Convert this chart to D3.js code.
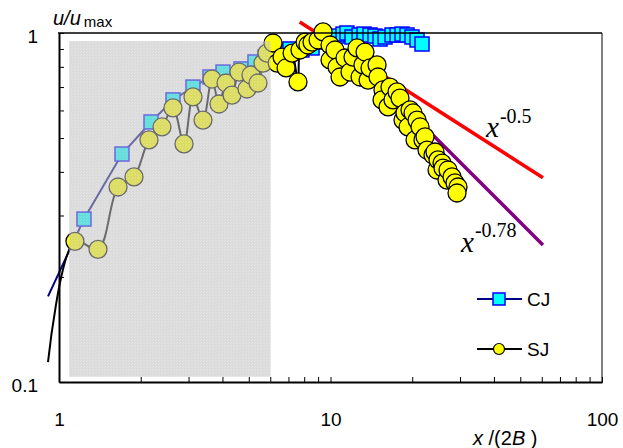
<!DOCTYPE html>
<html lang="en">
<head>
  <meta charset="UTF-8">
  <title>u/umax vs x/(2B)</title>
  <script src="https://d3js.org/d3.v7.min.js"></script>
  <style>
    body { margin: 0; background: #fff; }
    .axis text { font-family: Arial, "Liberation Sans", sans-serif; font-size: 19px; fill: #000; }
    .axis line { stroke: #000; stroke-width: 1; }
    .axis path { stroke: #000; stroke-width: 2; }
    .lbl { font-family: Arial, "Liberation Sans", sans-serif; fill: #000; }
    .law { font-family: "Times New Roman", "Liberation Serif", serif; fill: #000; }
  </style>
</head>
<body>
  <svg id="chart" width="623" height="448"></svg>
  <script>
    // CJ series (square markers) : [x/(2B), u/umax]
    const cjLead = [[0.911, 0.176]];
    const cjData = [
      [1.236, 0.293], [1.706, 0.450], [2.182, 0.556], [2.630, 0.643], [3.115, 0.700],
      [3.598, 0.748], [4.019, 0.773], [4.681, 0.789], [5.271, 0.826],
      [5.74, 0.853], [6.41, 0.882], [7.09, 0.900], [7.85, 0.894], [8.55, 0.906],
      [9.31, 0.942], [9.96, 0.968], [10.57, 0.980], [11.12, 0.993], [11.50, 1.0],
      [12.00, 0.974], [12.74, 0.987], [13.29, 0.993], [13.98, 0.987], [14.58, 0.980],
      [15.22, 0.961], [15.88, 0.974], [16.85, 0.987], [17.58, 0.987], [18.34, 0.993],
      [19.13, 0.987], [19.96, 0.974], [20.83, 0.955], [21.73, 0.930]
    ];

    // SJ series (circle markers)
    const sjLead = [[0.911, 0.114]];
    const sjData = [
      [1.145, 0.253], [1.392, 0.240], [1.650, 0.362], [1.889, 0.387], [2.145, 0.494],
      [2.395, 0.538], [2.630, 0.610], [2.887, 0.481], [3.115, 0.656], [3.391, 0.563],
      [3.660, 0.738], [3.884, 0.626], [4.123, 0.719], [4.338, 0.664], [4.603, 0.773],
      [4.925, 0.691], [5.095, 0.758], [5.407, 0.719], [5.641, 0.820], [5.836, 0.876],
      [6.14, 0.936], [6.36, 0.820], [6.63, 0.853], [6.86, 0.794], [7.22, 0.876],
      [7.59, 0.724], [7.72, 0.894], [8.06, 0.942], [8.26, 0.924], [8.55, 0.942],
      [9.00, 0.955], [9.39, 1.007], [9.96, 0.924], [9.96, 0.837], [10.39, 0.894],
      [10.57, 0.799], [10.84, 0.748], [11.31, 0.848], [11.80, 0.773], [12.10, 0.853],
      [12.52, 0.906], [12.85, 0.748], [13.17, 0.810], [13.40, 0.882], [13.75, 0.733],
      [13.98, 0.794], [14.84, 0.810], [14.96, 0.748], [15.61, 0.687], [15.48, 0.643],
      [16.29, 0.614], [16.56, 0.700], [16.99, 0.643], [17.58, 0.678], [18.03, 0.651],
      [18.49, 0.563], [18.81, 0.590], [19.30, 0.538], [19.63, 0.602], [20.14, 0.590],
      [20.48, 0.494], [20.83, 0.563], [21.37, 0.538], [21.91, 0.494], [22.29, 0.504],
      [22.67, 0.462], [23.85, 0.447], [24.26, 0.456], [24.68, 0.405], [24.89, 0.433],
      [25.75, 0.424], [25.97, 0.410], [26.86, 0.379], [27.09, 0.405], [28.03, 0.387],
      [28.75, 0.372], [29.49, 0.362], [29.24, 0.348]
    ];

    // power-law guide lines
    const lawHalf = [[7.7, 1.075], [60.6, 0.385]];
    const lawSteep = [[20.48, 0.574], [60.6, 0.247]];

    // shaded near-field region
    const shadeX = [1.09, 6.02];
    const shadeY = [0.1035, 0.948];

    const xTickLabels = [1, 10, 100];
    const yTickLabels = [0.1, 1];

    const svg = d3.select("#chart");
    const x = d3.scaleLog().domain([1, 100]).range([59, 602]);
    const y = d3.scaleLog().domain([0.1, 1]).range([382, 33]);

    const defs = svg.append("defs");
    const pat = defs.append("pattern")
      .attr("id", "dots").attr("width", 3).attr("height", 3)
      .attr("patternUnits", "userSpaceOnUse");
    pat.append("rect").attr("width", 3).attr("height", 3).attr("fill", "#bdbdbd");
    pat.append("rect").attr("x", 0).attr("y", 0).attr("width", 1).attr("height", 1).attr("fill", "#cfcfcf");
    pat.append("rect").attr("x", 2).attr("y", 1).attr("width", 1).attr("height", 1).attr("fill", "#cfcfcf");

    const straight = d3.line().x(d => x(d[0])).y(d => y(d[1]));
    const smooth = d3.line().x(d => x(d[0])).y(d => y(d[1])).curve(d3.curveCatmullRom.alpha(0.5));

    // guide lines
    svg.append("path").attr("d", straight(lawHalf))
      .attr("fill", "none").attr("stroke", "#ff0000").attr("stroke-width", 3.5);
    svg.append("path").attr("d", straight(lawSteep))
      .attr("fill", "none").attr("stroke", "#800080").attr("stroke-width", 3.5);

    // CJ
    svg.append("path").attr("d", straight(cjLead.concat(cjData)))
      .attr("fill", "none").attr("stroke", "#000080").attr("stroke-width", 2);
    const sq = 14;
    svg.selectAll(".cj").data(cjData).enter().append("rect")
      .attr("class", "cj")
      .attr("x", d => x(d[0]) - sq / 2).attr("y", d => y(d[1]) - sq / 2)
      .attr("width", sq).attr("height", sq)
      .attr("fill", "#00ffff").attr("stroke", "#0000ff").attr("stroke-width", 1.5);

    // SJ
    svg.append("path").attr("d", smooth(sjLead.concat(sjData)))
      .attr("fill", "none").attr("stroke", "#000").attr("stroke-width", 2);
    svg.selectAll(".sj").data(sjData).enter().append("circle")
      .attr("class", "sj")
      .attr("cx", d => x(d[0])).attr("cy", d => y(d[1])).attr("r", 9)
      .attr("fill", "#ffff00").attr("stroke", "#000").attr("stroke-width", 1.3);

    // translucent shading over the near field
    svg.append("rect")
      .attr("x", x(shadeX[0])).attr("y", y(shadeY[1]))
      .attr("width", x(shadeX[1]) - x(shadeX[0]))
      .attr("height", y(shadeY[0]) - y(shadeY[1]))
      .attr("fill", "url(#dots)").attr("opacity", 0.55);

    // axes
    const fmtX = d => xTickLabels.includes(+d.toPrecision(6)) ? String(d) : "";
    const fmtY = d => yTickLabels.includes(+d.toPrecision(6)) ? String(+d.toPrecision(6)) : "";

    svg.append("g").attr("class", "axis")
      .attr("transform", "translate(0,382)")
      .call(d3.axisBottom(x).tickSizeInner(-5).tickSizeOuter(0).tickPadding(31).tickFormat(fmtX));

    svg.append("g").attr("class", "axis")
      .attr("transform", "translate(59,0)")
      .call(d3.axisLeft(y).tickSizeInner(-5).tickSizeOuter(0).tickPadding(21).tickFormat(fmtY))
      .selectAll("text").attr("dy", "0.48em");

    // frame top and right
    svg.append("line").attr("x1", 58).attr("x2", 602).attr("y1", 33).attr("y2", 33)
      .attr("stroke", "#000").attr("stroke-width", 1.5);
    svg.append("line").attr("x1", 602).attr("x2", 602).attr("y1", 33).attr("y2", 383)
      .attr("stroke", "#000").attr("stroke-width", 1);

    // axis titles
    const yl = svg.append("text").attr("class", "lbl").attr("x", 53).attr("y", 25);
    yl.append("tspan").attr("font-style", "italic").attr("font-size", 20).text("u/u");
    yl.append("tspan").attr("font-size", 15).attr("dx", 3).attr("dy", 2).text("max");

    const xl = svg.append("text").attr("class", "lbl").attr("x", 473).attr("y", 445).attr("font-size", 20);
    xl.append("tspan").attr("font-style", "italic").text("x");
    xl.append("tspan").text(" /(2");
    xl.append("tspan").attr("font-style", "italic").text("B");
    xl.append("tspan").text(" )");

    // power-law labels
    const l1 = svg.append("text").attr("class", "law").attr("x", 486).attr("y", 137);
    l1.append("tspan").attr("font-style", "italic").attr("font-size", 29).text("x");
    l1.append("tspan").attr("font-size", 20).attr("dx", 1).attr("dy", -14).text("-0.5");

    const l2 = svg.append("text").attr("class", "law").attr("x", 461).attr("y", 252);
    l2.append("tspan").attr("font-style", "italic").attr("font-size", 29).text("x");
    l2.append("tspan").attr("font-size", 20).attr("dx", 1).attr("dy", -15).text("-0.78");

    // legend
    const leg = svg.append("g");
    leg.append("line").attr("x1", 477).attr("x2", 522).attr("y1", 299).attr("y2", 299)
      .attr("stroke", "#000080").attr("stroke-width", 2);
    leg.append("rect").attr("x", 493).attr("y", 293).attr("width", 12).attr("height", 12)
      .attr("fill", "#00ffff").attr("stroke", "#0000ff").attr("stroke-width", 1.5);
    leg.append("text").attr("class", "lbl").attr("x", 527).attr("y", 306).attr("font-size", 19).text("CJ");

    leg.append("line").attr("x1", 477).attr("x2", 522).attr("y1", 349).attr("y2", 349)
      .attr("stroke", "#000").attr("stroke-width", 2);
    leg.append("circle").attr("cx", 499).attr("cy", 349).attr("r", 5.5)
      .attr("fill", "#ffff00").attr("stroke", "#000").attr("stroke-width", 1.2);
    leg.append("text").attr("class", "lbl").attr("x", 527).attr("y", 356).attr("font-size", 19).text("SJ");
  </script>
</body>
</html>
